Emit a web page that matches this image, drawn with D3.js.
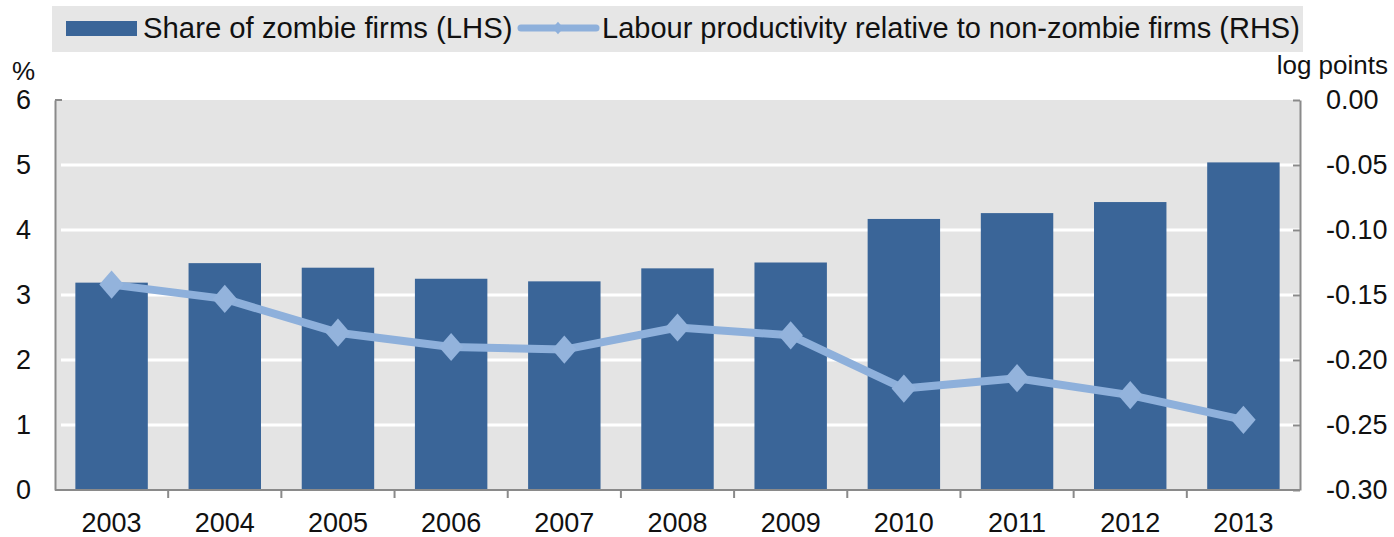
<!DOCTYPE html>
<html>
<head>
<meta charset="utf-8">
<script src="https://cdn.jsdelivr.net/npm/d3@7"></script>
<style>
  body { margin: 0; background: #fff; }
  text { font-family: "Liberation Sans", Arial, sans-serif; fill: #111; }
</style>
</head>
<body>
<div id="chart"></div>
<script>
const years = ["2003", "2004", "2005", "2006", "2007", "2008", "2009", "2010", "2011", "2012", "2013"];
const zombieShare = [3.19, 3.49, 3.42, 3.25, 3.21, 3.41, 3.5, 4.17, 4.26, 4.43, 5.04];
const productivity = [-0.142, -0.153, -0.179, -0.19, -0.192, -0.175, -0.181, -0.222, -0.214, -0.227, -0.246];
const leftTicks = [0, 1, 2, 3, 4, 5, 6];
const rightTicks = [0, -0.05, -0.1, -0.15, -0.2, -0.25, -0.3];

const totalWidth = 1394,
  totalHeight = 537;
const margin = { top: 100, right: 94, bottom: 47, left: 55 },
  width = totalWidth - margin.left - margin.right,
  height = totalHeight - margin.top - margin.bottom;

const barColor = "#3a6598",
  lineColor = "#8eb0db",
  axisColor = "#8a8a8a";

const root = d3
  .select("#chart")
  .append("svg")
  .attr("width", totalWidth)
  .attr("height", totalHeight);

// legend
const legend = root.append("g");
legend
  .append("rect")
  .attr("x", 52)
  .attr("y", 6)
  .attr("width", 1251)
  .attr("height", 46)
  .attr("fill", "#e6e6e6");
legend
  .append("rect")
  .attr("x", 66)
  .attr("y", 21)
  .attr("width", 71)
  .attr("height", 15)
  .attr("fill", barColor);
legend
  .append("text")
  .attr("x", 143)
  .attr("y", 38)
  .style("font-size", "29.3px")
  .text("Share of zombie firms (LHS)");
legend
  .append("line")
  .attr("x1", 521)
  .attr("x2", 596)
  .attr("y1", 28)
  .attr("y2", 28)
  .attr("stroke", lineColor)
  .attr("stroke-width", 7)
  .attr("stroke-linecap", "round");
legend
  .append("path")
  .attr("d", d3.symbol(d3.symbolSquare, 60)())
  .attr("transform", "translate(558,28) scale(1,1.15) rotate(45)")
  .attr("fill", lineColor);
legend
  .append("text")
  .attr("x", 602)
  .attr("y", 38)
  .style("font-size", "29px")
  .text("Labour productivity relative to non-zombie firms (RHS)");

const svg = root
  .append("g")
  .attr("transform", "translate(" + margin.left + "," + margin.top + ")");

const x = d3
  .scaleBand()
  .domain(years)
  .range([0, width])
  .paddingInner(0.36)
  .paddingOuter(0.18);

const y = d3.scaleLinear().domain([0, 6]).range([height, 0]);
const y2 = d3.scaleLinear().domain([-0.3, 0]).range([height, 0]);

svg
  .append("rect")
  .attr("width", width)
  .attr("height", height)
  .attr("fill", "#e4e4e4");

// gridlines
svg
  .append("g")
  .selectAll("line")
  .data(leftTicks.filter((d) => d > 0 && d < 6))
  .join("line")
  .attr("x1", 6)
  .attr("x2", width)
  .attr("y1", (d) => y(d))
  .attr("y2", (d) => y(d))
  .attr("stroke", "#fff")
  .attr("stroke-width", 3);

// bars
svg
  .append("g")
  .selectAll("rect")
  .data(years)
  .join("rect")
  .attr("x", (d) => x(d))
  .attr("width", x.bandwidth())
  .attr("y", (d, i) => y(zombieShare[i]))
  .attr("height", (d, i) => height - y(zombieShare[i]))
  .attr("fill", barColor);

// line
const line = d3
  .line()
  .x((d, i) => x(years[i]) + x.bandwidth() / 2)
  .y((d) => y2(d));

svg
  .append("path")
  .datum(productivity)
  .attr("fill", "none")
  .attr("stroke", lineColor)
  .attr("stroke-width", 8)
  .attr("stroke-linejoin", "round")
  .attr("d", line);

svg
  .append("g")
  .selectAll("path")
  .data(productivity)
  .join("path")
  .attr("d", d3.symbol(d3.symbolSquare, 300)())
  .attr(
    "transform",
    (d, i) =>
      "translate(" + (x(years[i]) + x.bandwidth() / 2) + "," + y2(d) + ") scale(1,1.15) rotate(45)"
  )
  .attr("fill", "#93b3dc");

// axes
const xAxis = svg
  .append("g")
  .attr("transform", "translate(0," + height + ")");
xAxis
  .append("line")
  .attr("x1", 0)
  .attr("x2", width)
  .attr("stroke", axisColor)
  .attr("stroke-width", 2);
xAxis
  .selectAll(".tk")
  .data(years.slice(1))
  .join("line")
  .attr("class", "tk")
  .attr("x1", (d) => x(d) - (x.step() * x.paddingInner()) / 2)
  .attr("x2", (d) => x(d) - (x.step() * x.paddingInner()) / 2)
  .attr("y1", 0)
  .attr("y2", 8)
  .attr("stroke", axisColor)
  .attr("stroke-width", 2);
xAxis
  .selectAll("text")
  .data(years)
  .join("text")
  .attr("x", (d) => x(d) + x.bandwidth() / 2)
  .attr("y", 42)
  .attr("text-anchor", "middle")
  .style("font-size", "27px")
  .text((d) => d);

const leftAxis = svg
  .append("g")
  .call(
    d3
      .axisLeft(y)
      .tickValues(leftTicks)
      .tickSize(0)
      .tickPadding(24)
      .tickFormat(d3.format("d"))
  );
leftAxis.select(".domain").attr("stroke", axisColor).attr("stroke-width", 2);
leftAxis.selectAll("text").style("font-size", "27px").attr("fill", "#111");
svg
  .append("line")
  .attr("x1", 0)
  .attr("x2", 7)
  .attr("y1", 0)
  .attr("y2", 0)
  .attr("stroke", axisColor)
  .attr("stroke-width", 2);

const rightAxis = svg
  .append("g")
  .attr("transform", "translate(" + width + ",0)")
  .call(
    d3
      .axisRight(y2)
      .tickValues(rightTicks)
      .tickSizeInner(-7)
      .tickSizeOuter(0)
      .tickPadding(26)
      .tickFormat((d) => d3.format(".2f")(d).replace("\u2212", "-"))
  );
rightAxis.select(".domain").attr("stroke", axisColor).attr("stroke-width", 2);
rightAxis.selectAll(".tick line").attr("stroke", axisColor).attr("stroke-width", 2);
rightAxis.selectAll("text").style("font-size", "27px").attr("fill", "#111");

// axis units
root
  .append("text")
  .attr("x", 35)
  .attr("y", 80)
  .attr("text-anchor", "end")
  .style("font-size", "26px")
  .text("%");
root
  .append("text")
  .attr("x", 1388)
  .attr("y", 74)
  .attr("text-anchor", "end")
  .style("font-size", "26px")
  .text("log points");
</script>
</body>
</html>
